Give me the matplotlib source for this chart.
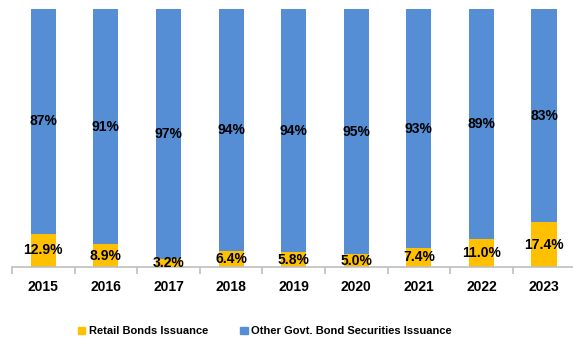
import numpy as np
import matplotlib.pyplot as plt
from matplotlib.patches import Patch

years = ["2015", "2016", "2017", "2018", "2019", "2020", "2021", "2022", "2023"]
retail = [12.9, 8.9, 3.2, 6.4, 5.8, 5.0, 7.4, 11.0, 17.4]
other_labels = ["87%", "91%", "97%", "94%", "94%", "95%", "93%", "89%", "83%"]

YELLOW = "#FFC000"
BLUE = "#558ED5"

plt.rcParams["font.family"] = ["Liberation Sans", "DejaVu Sans"]
plt.rcParams["font.weight"] = "bold"

fig = plt.figure(figsize=(5.73, 3.38), dpi=100)
ax = fig.add_axes([0.021, 0.21, 0.983, 0.763])

x = np.arange(len(years))
retail = np.array(retail)
other = 100 - retail
ax.bar(x, retail, width=0.4, color=YELLOW)
ax.bar(x, other, width=0.4, bottom=retail, color=BLUE)

for xi, r, o, lab in zip(x, retail, other, other_labels):
    ax.text(xi, r / 2, f"{r:.1f}%", ha="center", va="center", fontsize=10, fontweight="bold")
    ax.text(xi, r + o / 2, lab, ha="center", va="center", fontsize=10, fontweight="bold")

ax.set_xlim(-0.5, len(years) - 0.5)
ax.set_ylim(0, 100)
ax.set_yticks([])
for s in ["top", "right", "left"]:
    ax.spines[s].set_visible(False)
ax.spines["bottom"].set_color("#BFBFBF")
ax.spines["bottom"].set_linewidth(1.2)
ax.set_xticks(x)
ax.set_xticklabels(years, fontsize=10, fontweight="bold")
ax.tick_params(axis="x", length=0, pad=9)
ax.set_xticks(np.arange(-0.5, len(years)), minor=True)
ax.tick_params(axis="x", which="minor", length=5, color="#BFBFBF", width=1.2)

handles = [Patch(color=YELLOW, label="Retail Bonds Issuance"),
           Patch(color=BLUE, label="Other Govt. Bond Securities Issuance")]
fig.legend(handles=handles, loc="lower center", bbox_to_anchor=(0.462, -0.025), ncol=2,
           frameon=False, handlelength=0.7, handleheight=0.7,
           handletextpad=0.3, columnspacing=2.9, prop={"weight": "bold", "size": 8})

fig.savefig("out.png", dpi=100)
